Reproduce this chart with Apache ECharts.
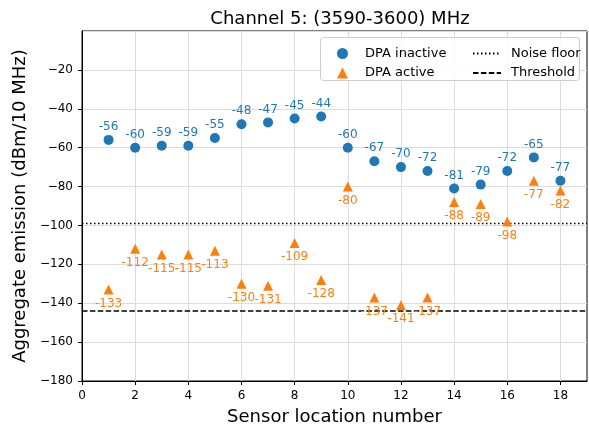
<!DOCTYPE html>
<html>
<head>
<meta charset="utf-8">
<script src="https://cdn.jsdelivr.net/npm/echarts@6/dist/echarts.min.js"></script>
<style>
  html, body { margin: 0; padding: 0; background: #fff; }
  #chart { width: 589px; height: 431px; }
</style>
</head>
<body>
<div id="chart"></div>
<script>
// Sensor locations and measured aggregate emission (dBm/10 MHz)
const sensorLocations = [1, 2, 3, 4, 5, 6, 7, 8, 9, 10, 11, 12, 13, 14, 15, 16, 17, 18];
const dpaInactive = [-56, -60, -59, -59, -55, -48, -47, -45, -44, -60, -67, -70, -72, -81, -79, -72, -65, -77];
const dpaActive = [-133, -112, -115, -115, -113, -130, -131, -109, -128, -80, -137, -141, -137, -88, -89, -98, -77, -82];
const noiseFloor = -99;
const threshold = -144;
const xTicks = [0, 2, 4, 6, 8, 10, 12, 14, 16, 18];
const xRange = [0, 19];

const FONT = 'DejaVu Sans';
const BLUE = '#1f77b4';
const ORANGE = '#ff7f0e';

const pairs = (xs, ys) => xs.map((x, i) => [x, ys[i]]);
const minus = v => String(v).replace('-', '\u2212');

const chart = echarts.init(document.getElementById('chart'), null, { renderer: 'canvas' });

chart.setOption({
  animation: false,
  backgroundColor: '#fff',
  textStyle: { fontFamily: FONT },
  title: {
    text: 'Channel 5: (3590-3600) MHz',
    left: 335, top: 5, textAlign: 'center',
    textStyle: { fontFamily: FONT, fontSize: 18, fontWeight: 'normal', color: '#000' }
  },
  grid: {
    left: 82, right: 2, top: 31, bottom: 47,
    show: true, borderColor: '#000', borderWidth: 1, backgroundColor: 'transparent'
  },
  xAxis: {
    type: 'value', min: xRange[0], max: xRange[1], interval: 2,
    name: 'Sensor location number', nameLocation: 'middle', nameGap: 27,
    nameTextStyle: { fontFamily: FONT, fontSize: 18, color: '#000' },
    axisLine: { show: true, onZero: false, lineStyle: { color: '#000', width: 1 } },
    axisTick: { show: true, length: 4, customValues: xTicks, lineStyle: { color: '#000' } },
    axisLabel: { customValues: xTicks, fontFamily: FONT, fontSize: 12, color: '#000', margin: 9 },
    splitLine: { show: true, lineStyle: { color: '#dcdcdc', width: 1 } }
  },
  yAxis: {
    type: 'value', min: -180, max: 0, interval: 20,
    name: 'Aggregate emission (dBm/10 MHz)', nameLocation: 'middle', nameGap: 52,
    nameTextStyle: { fontFamily: FONT, fontSize: 18, color: '#000' },
    axisLine: { show: true, onZero: false, lineStyle: { color: '#000', width: 1 } },
    axisTick: { show: true, length: 4, lineStyle: { color: '#000' } },
    axisLabel: { fontFamily: FONT, fontSize: 12, color: '#000', margin: 9,
                 showMaxLabel: false, formatter: v => minus(v) },
    splitLine: { show: true, lineStyle: { color: '#dcdcdc', width: 1 } }
  },
  legend: [
    {
      orient: 'vertical', left: 332, top: 42, itemGap: 6.4, z: 20,
      itemWidth: 11, itemHeight: 11,
      data: ['DPA inactive', 'DPA active'],
      textStyle: { fontFamily: FONT, fontSize: 13, color: '#000', padding: [0, 0, 0, 12] }
    },
    {
      orient: 'vertical', left: 467, top: 42, itemGap: 6.4, z: 20,
      itemWidth: 28, itemHeight: 11,
      itemStyle: { opacity: 0 },
      data: ['Noise floor', 'Threshold'],
      textStyle: { fontFamily: FONT, fontSize: 13, color: '#000', padding: [0, 0, 0, 5] }
    }
  ],
  graphic: [{
    type: 'rect', left: 320, top: 37, z: 15,
    shape: { width: 259, height: 43, r: 3 },
    style: { fill: 'rgba(255,255,255,0.85)', stroke: '#cccccc', lineWidth: 1 }
  }],
  series: [
    {
      name: 'DPA inactive', type: 'scatter',
      data: pairs(sensorLocations, dpaInactive),
      symbol: 'circle', symbolSize: 10,
      itemStyle: { color: BLUE, opacity: 1 },
      label: {
        show: true, position: 'top', distance: 2,
        fontFamily: FONT, fontSize: 12, color: BLUE,
        formatter: p => String(p.value[1])
      },
      z: 5
    },
    {
      name: 'DPA active', type: 'scatter',
      data: pairs(sensorLocations, dpaActive),
      symbol: 'triangle', symbolSize: 10,
      itemStyle: { color: ORANGE, opacity: 1 },
      label: {
        show: true, position: 'bottom', distance: 3,
        fontFamily: FONT, fontSize: 12, color: ORANGE,
        formatter: p => String(p.value[1])
      },
      z: 5
    },
    {
      name: 'Noise floor', type: 'line',
      data: [[xRange[0], noiseFloor], [xRange[1], noiseFloor]],
      symbol: 'none', silent: true,
      itemStyle: { color: '#000' },
      lineStyle: { color: '#000', width: 1.5, type: [1.5, 2.5] },
      z: 3
    },
    {
      name: 'Threshold', type: 'line',
      data: [[xRange[0], threshold], [xRange[1], threshold]],
      symbol: 'none', silent: true,
      itemStyle: { color: '#000' },
      lineStyle: { color: '#000', width: 1.5, type: [5.5, 2.4] },
      z: 3
    }
  ]
});
</script>
</body>
</html>
